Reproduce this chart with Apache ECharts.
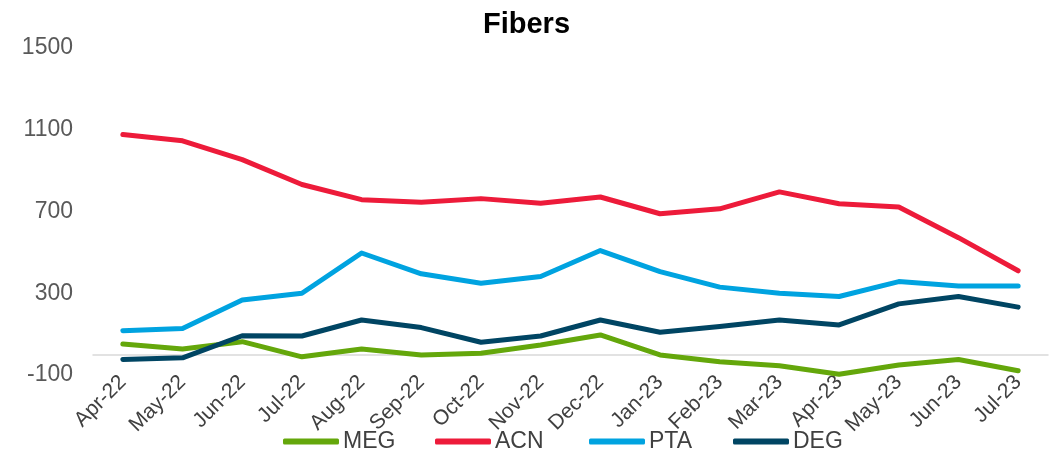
<!DOCTYPE html>
<html>
<head>
<meta charset="utf-8">
<script src="https://cdn.jsdelivr.net/npm/echarts@6/dist/echarts.min.js"></script>
<style>
  html, body { margin: 0; padding: 0; background: #fff; }
  #chart { width: 1053px; height: 460px; }
</style>
</head>
<body>
<div id="chart"></div>
<script>
// Monthly fiber feedstock series
const months = ['Apr-22','May-22','Jun-22','Jul-22','Aug-22','Sep-22','Oct-22','Nov-22',
                'Dec-22','Jan-23','Feb-23','Mar-23','Apr-23','May-23','Jun-23','Jul-23'];
const meg = [52, 27, 63, -11, 27, -2, 6, 47, 96, -2, -35, -55, -96, -51, -24, -79];
const acn = [1077, 1046, 954, 832, 758, 745, 763, 740, 771, 689, 713, 796, 738, 722, 572, 410];
const pta = [117, 128, 267, 300, 497, 395, 349, 382, 509, 406, 330, 300, 284, 357, 336, 336];
const deg = [-24, -16, 92, 91, 169, 132, 60, 91, 169, 109, 137, 169, 145, 248, 284, 232];

const seriesNames = ['MEG', 'ACN', 'PTA', 'DEG'];
const seriesColors = ['#64a70b', '#ed1b3a', '#00a3e0', '#004563'];
const legendLeft = [283, 435, 589, 733];

const font = 'Liberation Sans, Arial, sans-serif';

function line(name, data, color) {
  return {
    name, type: 'line', data,
    symbol: 'none',
    lineStyle: { width: 5, color, cap: 'round', join: 'round' },
    itemStyle: { color },
    animation: false
  };
}

// one legend entry per series so each can sit at its own spot
const legends = seriesNames.map((name, i) => ({
  data: [name],
  left: legendLeft[i],
  top: 430,
  padding: 0,
  itemWidth: 56,
  itemHeight: 6,
  itemGap: 0,
  icon: 'roundRect',
  textStyle: { fontFamily: font, fontSize: 23, color: '#404040', padding: [0, 0, 0, -1] }
}));

const chart = echarts.init(document.getElementById('chart'));
chart.setOption({
  backgroundColor: '#fff',
  title: {
    text: 'Fibers',
    left: 'center',
    top: 5,
    textStyle: { fontFamily: font, fontSize: 29, fontWeight: 'bold', color: '#000' }
  },
  legend: legends,
  grid: { left: 93, right: 5, top: 48, bottom: 85, containLabel: false },
  xAxis: {
    type: 'category',
    data: months,
    boundaryGap: true,
    axisLine: { onZero: true, lineStyle: { color: '#d9d9d9', width: 1.5 } },
    axisTick: { show: false },
    axisLabel: {
      rotate: 45,
      interval: 0,
      margin: 4,
      fontFamily: font,
      fontSize: 21,
      color: '#404040'
    },
    splitLine: { show: false }
  },
  yAxis: {
    type: 'value',
    min: -100,
    max: 1500,
    interval: 400,
    axisLine: { show: false },
    axisTick: { show: false },
    splitLine: { show: false },
    axisLabel: {
      margin: 20,
      fontFamily: font,
      fontSize: 23,
      color: '#595959',
      formatter: v => String(v)
    }
  },
  series: seriesNames.map((n, i) => line(n, [meg, acn, pta, deg][i], seriesColors[i]))
});
</script>
</body>
</html>
